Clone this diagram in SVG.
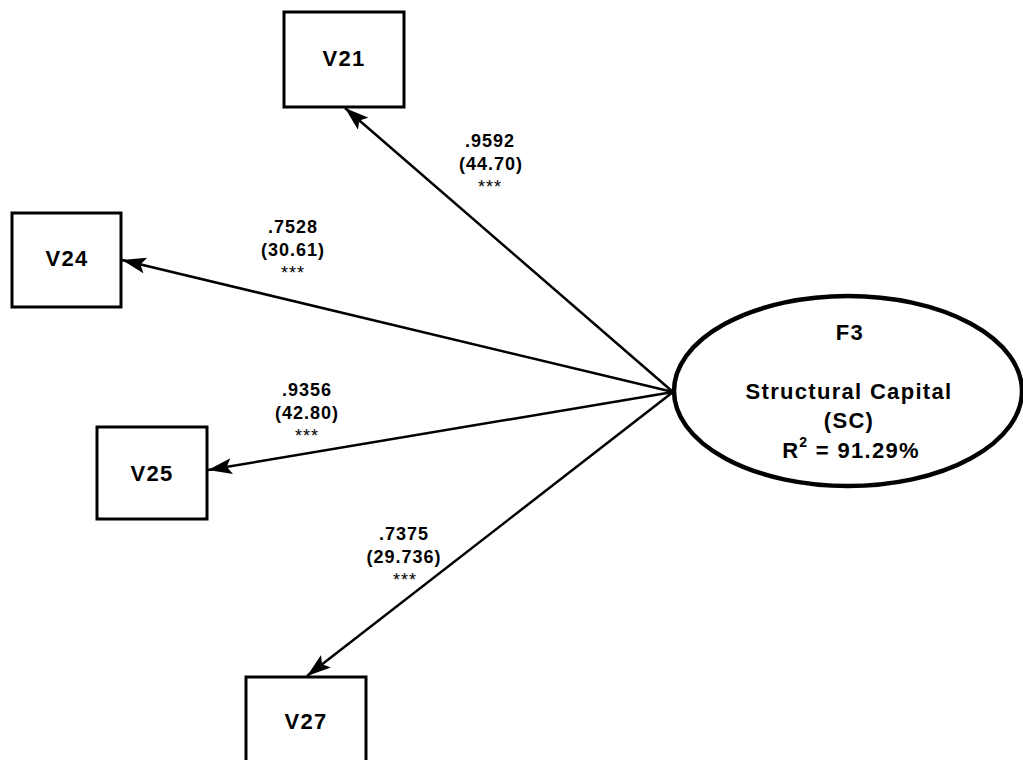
<svg xmlns="http://www.w3.org/2000/svg" width="1023" height="760" viewBox="0 0 1023 760">
<style>
.box{fill:#fff;stroke:#000;stroke-width:3}
.ell{fill:#fff;stroke:#000;stroke-width:4.5}
.t{font-family:"Liberation Sans",Arial,sans-serif;font-weight:bold;font-size:22px;letter-spacing:1.3px;text-anchor:middle;fill:#000}
.l{font-family:"Liberation Sans",Arial,sans-serif;font-weight:bold;font-size:18px;letter-spacing:1px;text-anchor:middle;fill:#000}
.a{font-family:"Liberation Sans",Arial,sans-serif;font-size:18px;letter-spacing:1px;text-anchor:middle;fill:#000}
.c{stroke:#000;stroke-width:2.5;fill:none;marker-end:url(#arr)}
</style>
<defs>
<marker id="arr" markerUnits="userSpaceOnUse" markerWidth="26" markerHeight="16" refX="24" refY="8" orient="auto">
<path d="M0,0 L24,8 L0,16 L5,8 Z" fill="#000"/>
</marker>
</defs>
<rect width="1023" height="760" fill="#fff"/>
<g id="connectors">
<line class="c" x1="673" y1="392" x2="345" y2="108"/>
<line class="c" x1="673" y1="392" x2="122" y2="260"/>
<line class="c" x1="673" y1="392" x2="208" y2="470"/>
<line class="c" x1="673" y1="392" x2="307" y2="676"/>
</g>
<g id="labels">
<text class="l" x="490" y="147">.9592</text>
<text class="l" x="491" y="170">(44.70)</text>
<text class="a" x="490" y="193">***</text>
<text class="l" x="293" y="233">.7528</text>
<text class="l" x="293" y="256">(30.61)</text>
<text class="a" x="293" y="279">***</text>
<text class="l" x="307" y="396">.9356</text>
<text class="l" x="307" y="419">(42.80)</text>
<text class="a" x="307" y="442">***</text>
<text class="l" x="404" y="540">.7375</text>
<text class="l" x="404" y="563">(29.736)</text>
<text class="a" x="405" y="586">***</text>
</g>
<g id="V21">
<rect class="box" x="284" y="12" width="120" height="95"/>
<text class="t" x="344" y="66">V21</text>
</g>
<g id="V24">
<rect class="box" x="12" y="213" width="109" height="94"/>
<text class="t" x="67" y="266">V24</text>
</g>
<g id="V25">
<rect class="box" x="97" y="427" width="110" height="92"/>
<text class="t" x="152" y="481">V25</text>
</g>
<g id="V27">
<rect class="box" x="246" y="677" width="120" height="95"/>
<text class="t" x="306" y="729">V27</text>
</g>
<g id="F3">
<ellipse class="ell" cx="848" cy="391" rx="174" ry="95"/>
<text class="t" x="850" y="340">F3</text>
<text class="t" x="849" y="399">Structural Capital</text>
<text class="t" x="849" y="428">(SC)</text>
<text class="t" x="851" y="458">R<tspan dy="-11" font-size="14">2</tspan><tspan dy="11"> = 91.29%</tspan></text>
</g>
</svg>
